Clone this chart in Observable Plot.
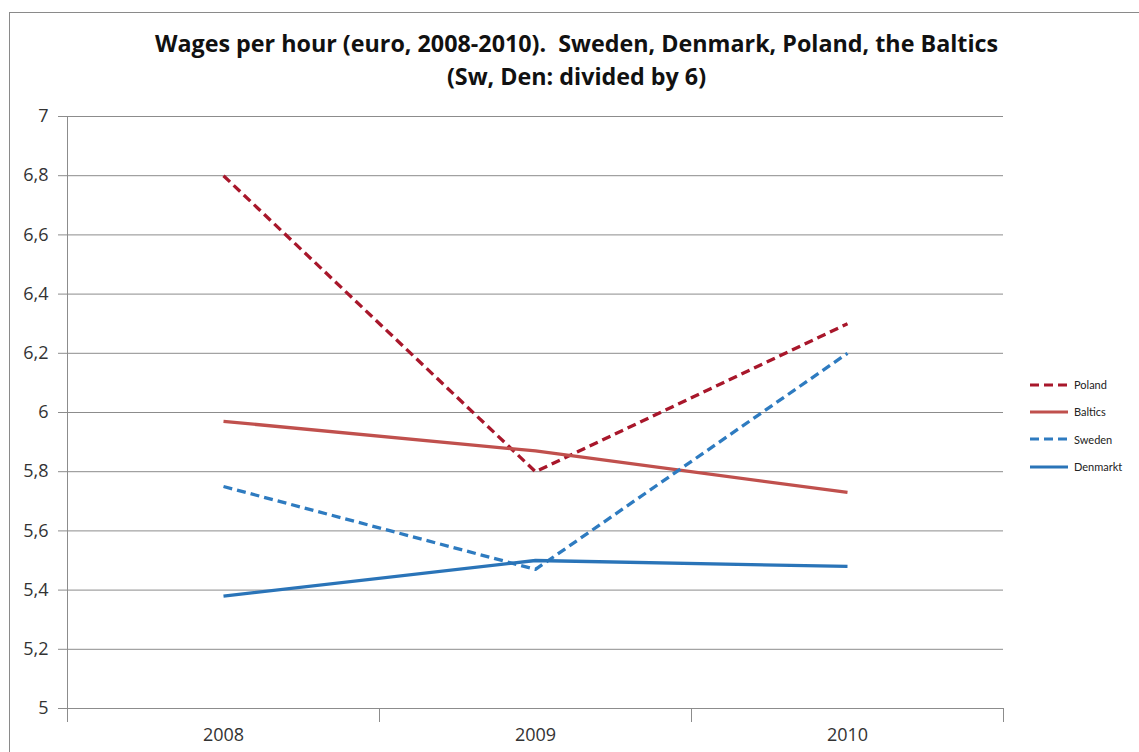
<!DOCTYPE html>
<html>
<head>
<meta charset="utf-8">
<script src="https://cdn.jsdelivr.net/npm/d3@7"></script>
<script src="https://cdn.jsdelivr.net/npm/@observablehq/plot@0.6"></script>
<style>
  html, body { margin: 0; padding: 0; background: #fff; }
  #wrap { position: relative; width: 1139px; height: 752px; overflow: hidden; font-family: "Open Sans", Lato, sans-serif; }
  #frame { position: absolute; left: 9px; top: 12px; width: 1200px; height: 800px; border-top: 1.5px solid #8a8a8a; border-left: 1.5px solid #8a8a8a; }
  #title { position: absolute; left: 7px; top: 27px; width: 1139px; text-align: center; font-weight: bold; font-size: 23.3px; line-height: 33px; color: #111; }
  #chart { position: absolute; left: 0; top: 100px; }
  #legend { position: absolute; left: 1030px; top: 371px; font-size: 11px; color: #222; font-family: Lato, sans-serif; }
  .item { display: flex; align-items: center; height: 27.3px; }
  .item svg { margin-right: 4px; }
</style>
</head>
<body>
<div id="wrap">
  <div id="frame"></div>
  <div id="title"></div>
  <div id="chart"></div>
  <div id="legend"></div>
</div>
<script>
const titleLines = ["Wages per hour (euro, 2008-2010).\u00a0 Sweden, Denmark, Poland, the Baltics", "(Sw, Den: divided by 6)"];
const years = [2008, 2009, 2010];
const seriesNames = ["Poland", "Baltics", "Sweden", "Denmarkt"];
const poland = [6.80, 5.80, 6.30];
const baltics = [5.97, 5.87, 5.73];
const sweden = [5.75, 5.47, 6.20];
const denmark = [5.38, 5.50, 5.48];
const seriesColors = ["#a8172b", "#c0504d", "#2e7bc0", "#2a74b8"];
const seriesDash = ["9,5", null, "9,5", null];
const yTicks = [5, 5.2, 5.4, 5.6, 5.8, 6, 6.2, 6.4, 6.6, 6.8, 7];

const seriesValues = [poland, baltics, sweden, denmark];
const table = seriesNames.flatMap((s, i) => years.map((y, j) => ({series: s, year: y, value: seriesValues[i][j]})));
const edges = [years[0] - 0.5, ...years.map(y => y + 0.5)];
const comma = d => String(d).replace(".", ",");

document.getElementById("title").innerHTML = titleLines.map(t => `<div>${t}</div>`).join("");

const lineMarks = seriesNames.map((s, i) => Plot.line(table.filter(d => d.series === s), {
  x: "year", y: "value", stroke: seriesColors[i], strokeWidth: 3.3,
  strokeDasharray: seriesDash[i] ?? undefined, strokeLinecap: "butt"
}));

const chart = Plot.plot({
  width: 1139, height: 652,
  marginTop: 16, marginBottom: 44, marginLeft: 67, marginRight: 136,
  style: {fontFamily: "'Open Sans', Lato, sans-serif", fontSize: "18px", color: "#333", background: "transparent", overflow: "visible"},
  x: {type: "linear", domain: [edges[0], edges[edges.length - 1]]},
  y: {domain: [5, 7]},
  marks: [
    Plot.ruleY(yTicks, {stroke: "#8c8c8c", strokeWidth: 1}),
    Plot.ruleX([edges[0]], {y1: 5, y2: 7, stroke: "#8c8c8c", strokeWidth: 1}),
    Plot.axisY({ticks: yTicks, tickSize: 9, tickPadding: 10, tickFormat: comma, label: null, stroke: "#8c8c8c", strokeOpacity: 1, fill: "#333"}),
    Plot.axisX({ticks: edges, tickSize: 14, tickFormat: () => "", label: null, stroke: "#8c8c8c", strokeOpacity: 1}),
    Plot.axisX({ticks: years, tickSize: 0, tickPadding: 20, tickFormat: d => String(d), label: null, fill: "#333"}),
    ...lineMarks
  ]
});
document.getElementById("chart").appendChild(chart);

const legend = document.getElementById("legend");
seriesNames.forEach((s, i) => {
  const item = document.createElement("div");
  item.className = "item";
  item.innerHTML = `<svg width="40" height="6"><line x1="0" y1="3" x2="38" y2="3" stroke="${seriesColors[i]}" stroke-width="3" ${seriesDash[i] ? `stroke-dasharray="${seriesDash[i]}"` : ""}/></svg><span>${s}</span>`;
  legend.appendChild(item);
});
</script>
</body>
</html>
